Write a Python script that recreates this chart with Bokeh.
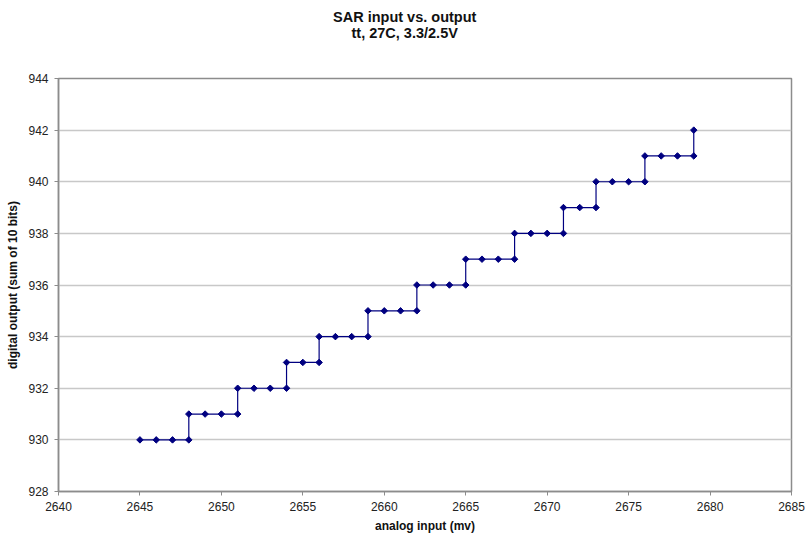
from bokeh.plotting import figure
from bokeh.models import FixedTicker, Range1d, Title, LinearAxis
from bokeh.embed import file_html
from bokeh.resources import INLINE

# SAR converter transfer curve: analog input (mV) vs. digital output code
analog_mv = [2645, 2646, 2647, 2648,
             2648, 2649, 2650, 2651,
             2651, 2652, 2653, 2654,
             2654, 2655, 2656,
             2656, 2657, 2658, 2659,
             2659, 2660, 2661, 2662,
             2662, 2663, 2664, 2665,
             2665, 2666, 2667, 2668,
             2668, 2669, 2670, 2671,
             2671, 2672, 2673,
             2673, 2674, 2675, 2676,
             2676, 2677, 2678, 2679,
             2679]
digital_out = [930, 930, 930, 930,
               931, 931, 931, 931,
               932, 932, 932, 932,
               933, 933, 933,
               934, 934, 934, 934,
               935, 935, 935, 935,
               936, 936, 936, 936,
               937, 937, 937, 937,
               938, 938, 938, 938,
               939, 939, 939,
               940, 940, 940, 940,
               941, 941, 941, 941,
               942]

x_ticks = [2640, 2645, 2650, 2655, 2660, 2665, 2670, 2675, 2680, 2685]
y_ticks = [928, 930, 932, 934, 936, 938, 940, 942, 944]

title_main = "SAR input vs. output"
title_sub = "tt, 27C, 3.3/2.5V"

FONT = "Liberation Sans"
NAVY = "#000080"
AXIS_GREY = "#8c8c8c"

FRAME_LEFT, FRAME_TOP, FRAME_BOTTOM = 58, 78, 491

p = figure(width=805, height=540, output_backend="svg", toolbar_location=None,
           title_location=None,
           x_range=Range1d(x_ticks[0], x_ticks[-1]),
           y_range=Range1d(y_ticks[0], y_ticks[-1]),
           min_border_left=FRAME_LEFT, min_border_right=14,
           min_border_top=FRAME_TOP, min_border_bottom=540 - FRAME_BOTTOM)

p.background_fill_color = "white"
p.border_fill_color = "white"
p.outline_line_color = AXIS_GREY
p.outline_line_width = 1.5

p.line(analog_mv, digital_out, line_color=NAVY, line_width=1.2)
p.scatter(analog_mv, digital_out, marker="square", angle=0.785398, size=4.6,
          fill_color=NAVY, line_color=NAVY)

p.xaxis.ticker = FixedTicker(ticks=x_ticks)
p.yaxis.ticker = FixedTicker(ticks=y_ticks)
p.xaxis.minor_tick_line_color = None
p.yaxis.minor_tick_line_color = None

for ax in (p.xaxis[0], p.yaxis[0]):
    ax.axis_line_color = AXIS_GREY
    ax.axis_line_width = 1.5
    ax.major_tick_line_color = AXIS_GREY
    ax.major_tick_in = 0
    ax.major_tick_out = 4
    ax.major_label_text_font = FONT
    ax.major_label_text_font_size = "12px"
    ax.major_label_text_color = "#222222"
    ax.axis_label_text_font = FONT
    ax.axis_label_text_font_size = "12px"
    ax.axis_label_text_font_style = "bold"
    ax.axis_label_text_color = "#111111"
    ax.major_label_standoff = 6
    ax.axis_label_standoff = 5

p.xaxis.axis_label = "analog input (mv)"
p.yaxis.axis_label = "digital output (sum of 10 bits)"

p.xgrid.grid_line_color = None
p.ygrid.grid_line_color = "#c8c8c8"
p.ygrid.grid_line_width = 1.5

# an invisible axis above the frame keeps a gap between the frame and the
# heading (panels above the frame stack outward from it)
gap = LinearAxis(ticker=FixedTicker(ticks=[x_ticks[0]]),
                 major_label_overrides={x_ticks[0]: ""},
                 major_label_text_font_size="1px",
                 major_tick_in=0, major_tick_out=38,
                 major_tick_line_color=None, minor_tick_line_color=None,
                 axis_line_color=None, major_label_standoff=0)
p.add_layout(gap, "above")

# two-line heading, centred on x = 404 px of the chart; the subtitle panel
# sits nearer the frame, so it is added first
TITLE_CENTRE = 404
for text, est_width, standoff in ((title_sub, 106, 0), (title_main, 143, -4)):
    p.add_layout(Title(text=text, align="left",
                       offset=TITLE_CENTRE - FRAME_LEFT - est_width / 2,
                       standoff=standoff,
                       text_font=FONT, text_font_size="14.5px", text_font_style="bold",
                       text_color="#111111"), "above")

open("out.html", "w").write(file_html(p, INLINE))
